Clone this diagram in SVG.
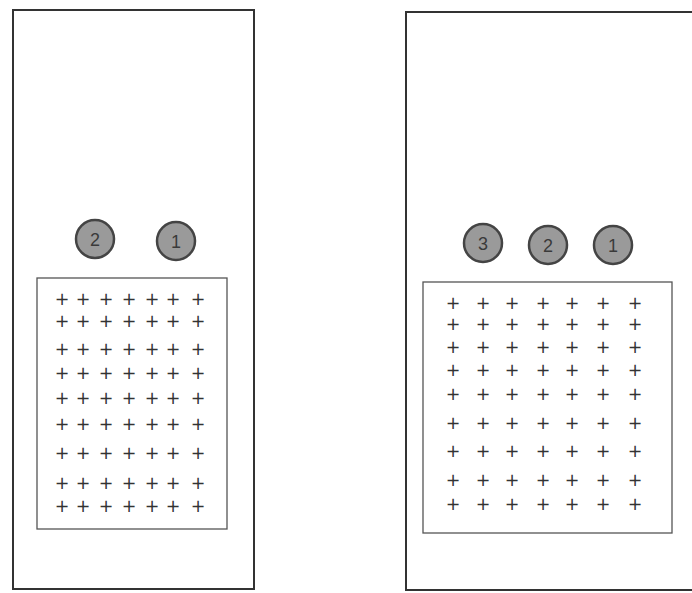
<svg xmlns="http://www.w3.org/2000/svg" width="692" height="593" viewBox="0 0 692 593">
<style>
.outer{fill:#fff;stroke:#333;stroke-width:2}
.inner{fill:#fff;stroke:#555;stroke-width:1.3}
.disc{fill:#9a9a9a;stroke:#444;stroke-width:2.5}
.num{font-family:"Liberation Sans",Arial,sans-serif;font-size:18px;fill:#3a3a3a;text-anchor:middle}
.p{font-family:"DejaVu Sans",sans-serif;font-size:17.5px;fill:#333;text-anchor:middle}
</style>
<rect width="692" height="593" fill="#fff"/>
<g id="panel-left">
<rect class="outer" x="13" y="10" width="241" height="579"/>
<rect class="inner" x="37" y="278" width="190" height="251"/>
</g>
<g id="panel-right">
<rect class="outer" x="406" y="12" width="290" height="578"/>
<rect class="inner" x="423" y="282" width="249" height="251"/>
</g>
<g id="left-c2"><circle class="disc" cx="95" cy="239" r="19"/><text class="num" x="95" y="245.5">2</text></g>
<g id="left-c1"><circle class="disc" cx="176" cy="241" r="19"/><text class="num" x="176" y="247.5">1</text></g>
<g id="right-c3"><circle class="disc" cx="483" cy="243" r="19"/><text class="num" x="483" y="249.5">3</text></g>
<g id="right-c2"><circle class="disc" cx="548" cy="245" r="19"/><text class="num" x="548" y="251.5">2</text></g>
<g id="right-c1"><circle class="disc" cx="613" cy="245" r="19"/><text class="num" x="613" y="251.5">1</text></g>
<g id="left-grid" class="p">
<text x="62" y="304.5">+</text><text x="83" y="304.5">+</text><text x="106" y="304.5">+</text><text x="129" y="304.5">+</text><text x="152" y="304.5">+</text><text x="173" y="304.5">+</text><text x="198" y="304.5">+</text>
<text x="62" y="326.5">+</text><text x="83" y="326.5">+</text><text x="106" y="326.5">+</text><text x="129" y="326.5">+</text><text x="152" y="326.5">+</text><text x="173" y="326.5">+</text><text x="198" y="326.5">+</text>
<text x="62" y="354.5">+</text><text x="83" y="354.5">+</text><text x="106" y="354.5">+</text><text x="129" y="354.5">+</text><text x="152" y="354.5">+</text><text x="173" y="354.5">+</text><text x="198" y="354.5">+</text>
<text x="62" y="378.5">+</text><text x="83" y="378.5">+</text><text x="106" y="378.5">+</text><text x="129" y="378.5">+</text><text x="152" y="378.5">+</text><text x="173" y="378.5">+</text><text x="198" y="378.5">+</text>
<text x="62" y="403.5">+</text><text x="83" y="403.5">+</text><text x="106" y="403.5">+</text><text x="129" y="403.5">+</text><text x="152" y="403.5">+</text><text x="173" y="403.5">+</text><text x="198" y="403.5">+</text>
<text x="62" y="429.5">+</text><text x="83" y="429.5">+</text><text x="106" y="429.5">+</text><text x="129" y="429.5">+</text><text x="152" y="429.5">+</text><text x="173" y="429.5">+</text><text x="198" y="429.5">+</text>
<text x="62" y="458.5">+</text><text x="83" y="458.5">+</text><text x="106" y="458.5">+</text><text x="129" y="458.5">+</text><text x="152" y="458.5">+</text><text x="173" y="458.5">+</text><text x="198" y="458.5">+</text>
<text x="62" y="488.5">+</text><text x="83" y="488.5">+</text><text x="106" y="488.5">+</text><text x="129" y="488.5">+</text><text x="152" y="488.5">+</text><text x="173" y="488.5">+</text><text x="198" y="488.5">+</text>
<text x="62" y="511.5">+</text><text x="83" y="511.5">+</text><text x="106" y="511.5">+</text><text x="129" y="511.5">+</text><text x="152" y="511.5">+</text><text x="173" y="511.5">+</text><text x="198" y="511.5">+</text>
</g>
<g id="right-grid" class="p">
<text x="453" y="308.5">+</text><text x="483" y="308.5">+</text><text x="512" y="308.5">+</text><text x="543" y="308.5">+</text><text x="572" y="308.5">+</text><text x="603" y="308.5">+</text><text x="635" y="308.5">+</text>
<text x="453" y="330">+</text><text x="483" y="330">+</text><text x="512" y="330">+</text><text x="543" y="330">+</text><text x="572" y="330">+</text><text x="603" y="330">+</text><text x="635" y="330">+</text>
<text x="453" y="352.5">+</text><text x="483" y="352.5">+</text><text x="512" y="352.5">+</text><text x="543" y="352.5">+</text><text x="572" y="352.5">+</text><text x="603" y="352.5">+</text><text x="635" y="352.5">+</text>
<text x="453" y="375.5">+</text><text x="483" y="375.5">+</text><text x="512" y="375.5">+</text><text x="543" y="375.5">+</text><text x="572" y="375.5">+</text><text x="603" y="375.5">+</text><text x="635" y="375.5">+</text>
<text x="453" y="399.5">+</text><text x="483" y="399.5">+</text><text x="512" y="399.5">+</text><text x="543" y="399.5">+</text><text x="572" y="399.5">+</text><text x="603" y="399.5">+</text><text x="635" y="399.5">+</text>
<text x="453" y="428.5">+</text><text x="483" y="428.5">+</text><text x="512" y="428.5">+</text><text x="543" y="428.5">+</text><text x="572" y="428.5">+</text><text x="603" y="428.5">+</text><text x="635" y="428.5">+</text>
<text x="453" y="456.5">+</text><text x="483" y="456.5">+</text><text x="512" y="456.5">+</text><text x="543" y="456.5">+</text><text x="572" y="456.5">+</text><text x="603" y="456.5">+</text><text x="635" y="456.5">+</text>
<text x="453" y="485.5">+</text><text x="483" y="485.5">+</text><text x="512" y="485.5">+</text><text x="543" y="485.5">+</text><text x="572" y="485.5">+</text><text x="603" y="485.5">+</text><text x="635" y="485.5">+</text>
<text x="453" y="509.5">+</text><text x="483" y="509.5">+</text><text x="512" y="509.5">+</text><text x="543" y="509.5">+</text><text x="572" y="509.5">+</text><text x="603" y="509.5">+</text><text x="635" y="509.5">+</text>
</g>
<g id="connectors"/>
</svg>
